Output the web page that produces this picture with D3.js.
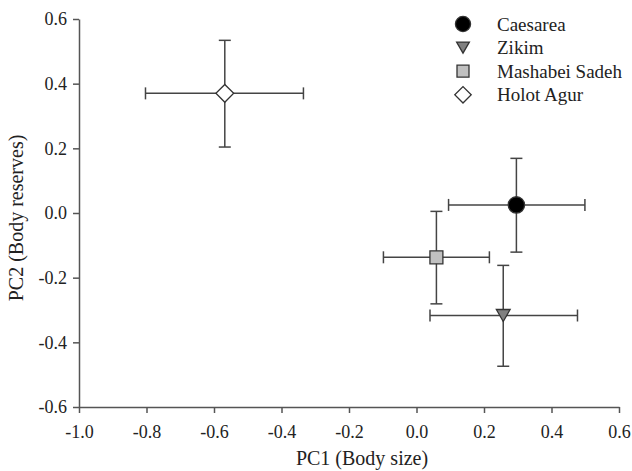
<!DOCTYPE html>
<html>
<head>
<meta charset="utf-8">
<script src="https://cdn.jsdelivr.net/npm/d3@7"></script>
<style>
  body { margin: 0; background: #fff; }
</style>
</head>
<body>
<div id="canvas"></div>
<script>
var WIDTH = 632
var HEIGHT = 471

// data
var sites = ['Caesarea', 'Zikim', 'Mashabei Sadeh', 'Holot Agur']
var pc1 = [0.296, 0.257, 0.059, -0.568]
var pc1Lo = [0.095, 0.040, -0.098, -0.803]
var pc1Hi = [0.499, 0.477, 0.216, -0.335]
var pc2 = [0.025, -0.317, -0.137, 0.370]
var pc2Lo = [-0.121, -0.474, -0.281, 0.204]
var pc2Hi = [0.169, -0.162, 0.005, 0.534]
var shapes = ['circle', 'triangle', 'square', 'diamond']
var fills = ['#000', '#808080', '#c0c0c0', '#fff']
var xTicks = [-1.0, -0.8, -0.6, -0.4, -0.2, 0.0, 0.2, 0.4, 0.6]
var yTicks = [-0.6, -0.4, -0.2, 0.0, 0.2, 0.4, 0.6]

var LEFT = 79, RIGHT = 619, TOP = 19, BOTTOM = 407
var FONT = "'Liberation Serif', 'Times New Roman', serif"
var AXIS_COLOR = '#555'
var BAR_COLOR = '#444'
var CAP = 6

var svg = d3.select('#canvas').append('svg')
  .attr('width', WIDTH)
  .attr('height', HEIGHT)

var x = d3.scaleLinear().domain([-1.0, 0.6]).range([LEFT, RIGHT])
var y = d3.scaleLinear().domain([-0.6, 0.6]).range([BOTTOM, TOP])

var fmt = function (d) { return d3.format('.1f')(d).replace('−', '-') }

var xAxis = svg.append('g')
  .attr('transform', 'translate(0,' + BOTTOM + ')')
  .call(d3.axisBottom(x).tickValues(xTicks).tickFormat(fmt).tickSize(6).tickSizeOuter(0))
var yAxis = svg.append('g')
  .attr('transform', 'translate(' + LEFT + ',0)')
  .call(d3.axisLeft(y).tickValues(yTicks).tickFormat(fmt).tickSize(6).tickSizeOuter(0))

;[xAxis, yAxis].forEach(function (ax) {
  ax.attr('font-family', null).attr('font-size', null)
  ax.select('.domain').attr('stroke', AXIS_COLOR).attr('stroke-width', 1.5)
  ax.selectAll('.tick line').attr('stroke', AXIS_COLOR).attr('stroke-width', 1.5)
  ax.selectAll('.tick text')
    .style('font-family', FONT)
    .style('font-size', '18px')
    .style('fill', '#222')
})
xAxis.selectAll('.tick text').attr('y', 31).attr('dy', 0)
yAxis.selectAll('.tick text').attr('x', -12)

svg.append('text')
  .attr('x', 362)
  .attr('y', 465)
  .attr('text-anchor', 'middle')
  .style('font-family', FONT)
  .style('font-size', '20px')
  .style('fill', '#222')
  .text('PC1 (Body size)')

svg.append('text')
  .attr('transform', 'translate(23,218) rotate(-90)')
  .attr('text-anchor', 'middle')
  .style('font-family', FONT)
  .style('font-size', '20px')
  .style('fill', '#222')
  .text('PC2 (Body reserves)')

var symbolFor = function (shape, size) {
  if (shape === 'circle') return d3.symbol(d3.symbolCircle, size * 1.0)()
  if (shape === 'square') return d3.symbol(d3.symbolSquare, size * 0.8)()
  if (shape === 'diamond') return d3.symbol(d3.symbolSquare, size * 0.75)()
  // downward triangle
  var w = Math.sqrt(size * 0.9), h = w * 0.87
  return 'M' + (-w / 2) + ',' + (-h / 2) + 'L' + (w / 2) + ',' + (-h / 2) + 'L0,' + (h / 2) + 'Z'
}
var rotFor = function (shape) { return shape === 'diamond' ? ' rotate(45)' : '' }

var bars = svg.append('g').attr('stroke', BAR_COLOR).attr('stroke-width', 1.5).attr('fill', 'none')
sites.forEach(function (s, i) {
  var g = bars.append('g')
  g.append('line').attr('x1', x(pc1Lo[i])).attr('x2', x(pc1Hi[i])).attr('y1', y(pc2[i])).attr('y2', y(pc2[i]))
  g.append('line').attr('x1', x(pc1[i])).attr('x2', x(pc1[i])).attr('y1', y(pc2Lo[i])).attr('y2', y(pc2Hi[i]))
  ;[pc1Lo[i], pc1Hi[i]].forEach(function (v) {
    g.append('line').attr('x1', x(v)).attr('x2', x(v)).attr('y1', y(pc2[i]) - CAP).attr('y2', y(pc2[i]) + CAP)
  })
  ;[pc2Lo[i], pc2Hi[i]].forEach(function (v) {
    g.append('line').attr('x1', x(pc1[i]) - CAP).attr('x2', x(pc1[i]) + CAP).attr('y1', y(v)).attr('y2', y(v))
  })
})

var SIZE = 210
svg.append('g').selectAll('path')
  .data(sites)
  .enter().append('path')
  .attr('d', function (d, i) { return symbolFor(shapes[i], SIZE) })
  .attr('transform', function (d, i) { return 'translate(' + x(pc1[i]) + ',' + y(pc2[i]) + ')' + rotFor(shapes[i]) })
  .attr('fill', function (d, i) { return fills[i] })
  .attr('stroke', '#333')
  .attr('stroke-width', 1.3)

// legend
var legend = svg.append('g').attr('transform', 'translate(463,24)')
var rows = legend.selectAll('g')
  .data(sites)
  .enter().append('g')
  .attr('transform', function (d, i) { return 'translate(0,' + (i * 23.6) + ')' })
rows.append('path')
  .attr('d', function (d, i) { return symbolFor(shapes[i], 180) })
  .attr('transform', function (d, i) { return rotFor(shapes[i]) })
  .attr('fill', function (d, i) { return fills[i] })
  .attr('stroke', '#333')
  .attr('stroke-width', 1.3)
rows.append('text')
  .attr('x', 34)
  .attr('dy', '0.35em')
  .style('font-family', FONT)
  .style('font-size', '19px')
  .style('fill', '#222')
  .text(function (d) { return d })
</script>
</body>
</html>
